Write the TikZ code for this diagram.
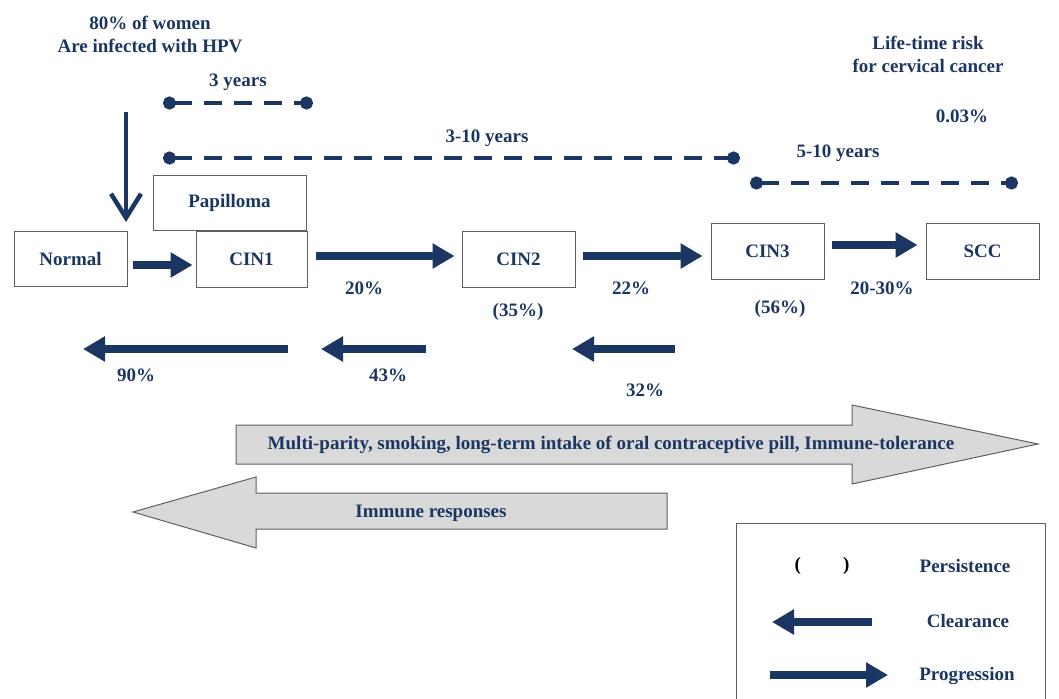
\documentclass[tikz,border=0pt]{standalone}
\usepackage{fontspec}
\setmainfont{Liberation Serif}
\usetikzlibrary{arrows.meta, positioning}
\definecolor{navy}{RGB}{27,54,98}
\definecolor{boxgray}{RGB}{95,95,95}
\definecolor{factorgray}{RGB}{217,217,217}

\tikzset{
  stage/.style={draw=boxgray, line width=0.9pt, minimum height=55pt, inner sep=0pt,
    text=navy, font=\bfseries\fontsize{19}{23}\selectfont},
  lbl/.style={text=navy, font=\bfseries\fontsize{19}{23}\selectfont, inner sep=0pt},
  fat/.style={navy, line width=7.5pt, -{Triangle[length=22pt,width=24pt]}},
  span/.style={navy, line width=3.5pt, dash pattern=on 18pt off 12pt,
    {Circle[length=13pt]}-{Circle[length=13pt]}},
  factor/.style={fill=factorgray, draw=boxgray, line width=1pt, line join=miter},
}

\begin{document}
\begin{tikzpicture}[x=1pt, y=-1pt]
  \useasboundingbox (0,0) rectangle (1059,698);

  % headings
  \node[lbl, align=center] (hpv) at (150,34) {80\% of women\\Are infected with HPV};
  \node[lbl, align=center] (risk) at (928,54) {Life-time risk\\for cervical cancer};
  \node[lbl] (risknum) at (962,116) {0.03\%};

  % time spans
  \coordinate (t3a) at (163,103);
  \coordinate (t3b) at (313,103);
  \coordinate (t10a) at (163,158);
  \coordinate (t10b) at (740,158);
  \coordinate (t5a) at (750,183);
  \coordinate (t5b) at (1018,183);
  \draw[span] (t3a) -- (t3b);
  \draw[span] (t10a) -- (t10b);
  \draw[span] (t5a) -- (t5b);
  \node[lbl] (y3) at (238,82) {3 years};
  \node[lbl] (y10) at (487,138) {3-10 years};
  \node[lbl] (y5) at (838,153) {5-10 years};

  % stages
  \node[stage, minimum width=153pt] (papilloma) at (229.5,202.5) {Papilloma};
  \node[stage, minimum width=113pt] (normal) at (70.5,258.5) {Normal};
  \node[stage, minimum width=111pt, minimum height=56pt] (cin1) at (251.5,259) {CIN1};
  \node[stage, minimum width=113pt, minimum height=56pt] (cin2) at (518.5,259) {CIN2};
  \node[stage, minimum width=113pt, minimum height=56pt] (cin3) at (767.5,251) {CIN3};
  \node[stage, minimum width=113pt, minimum height=56pt] (scc) at (982.5,251) {SCC};

  % infection
  \coordinate (infect) at (126,112);
  \draw[navy, line width=4.5pt, -{Straight Barb[length=24pt,width=30pt]}] (infect) -- (126,222);

  % progression
  \draw[fat] ([xshift=6pt,yshift=-6.5pt]normal.east) -- ([xshift=-3pt,yshift=-6.5pt]normal.east -| cin1.west);
  \draw[fat] ([xshift=9pt,yshift=3pt]cin1.east) -- ([xshift=-7pt,yshift=3pt]cin1.east -| cin2.west);
  \draw[fat] ([xshift=8pt,yshift=3pt]cin2.east) -- ([xshift=-8pt,yshift=3pt]cin2.east -| cin3.west);
  \draw[fat] ([xshift=8pt,yshift=6pt]cin3.east) -- ([xshift=-8pt,yshift=6pt]scc.west);
  \node[lbl] (p20) at (364,288) {20\%};
  \node[lbl] (p22) at (631,288) {22\%};
  \node[lbl] (p2030) at (882,288) {20-30\%};
  \node[lbl] (s35) at (518,312) {(35\%)};
  \node[lbl] (s56) at (780,309) {(56\%)};

  % clearance
  \coordinate (c1a) at (288,349);
  \coordinate (c1b) at (83,349);
  \coordinate (c2a) at (426,349);
  \coordinate (c2b) at (321,349);
  \coordinate (c3a) at (675,349);
  \coordinate (c3b) at (572,349);
  \draw[fat] (c1a) -- (c1b);
  \draw[fat] (c2a) -- (c2b);
  \draw[fat] (c3a) -- (c3b);
  \node[lbl] (c90) at (136,375) {90\%};
  \node[lbl] (c43) at (388,375) {43\%};
  \node[lbl] (c32) at (645,390) {32\%};

  % factors
  \draw[factor] (236,425) -- (852,425) -- (852,405) -- (1038,444) -- (852,484)
    -- (852,464) -- (236,464) -- cycle;
  \node[lbl] (risks) at (611,445)
    {Multi-parity, smoking, long-term intake of oral contraceptive pill, Immune-tolerance};
  \draw[factor] (667,493) -- (256,493) -- (256,477) -- (133,512) -- (256,548)
    -- (256,529) -- (667,529) -- cycle;
  \node[lbl] (immune) at (431,513) {Immune responses};

  % legend
  \draw[boxgray, line width=1pt] (1045,710) -- (1045,523) -- (736,523) -- (736,710);
  \node[lbl, text=black] (lpar) at (822,566) {(\hspace{42pt})};
  \node[lbl] (lpers) at (965,566) {Persistence};
  \coordinate (lca) at (872,622);
  \coordinate (lcb) at (772,622);
  \draw[fat] (lca) -- (lcb);
  \node[lbl] (lclear) at (968,621) {Clearance};
  \coordinate (lpa) at (770,675);
  \coordinate (lpb) at (888,675);
  \draw[fat] (lpa) -- (lpb);
  \node[lbl] (lprog) at (967,676) {Progression};
\end{tikzpicture}
\end{document}
